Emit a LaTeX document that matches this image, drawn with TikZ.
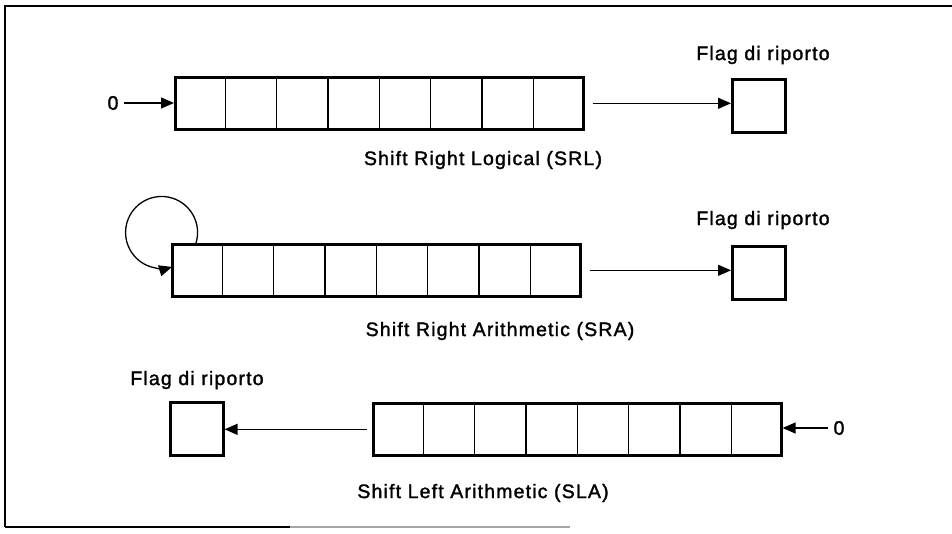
\documentclass[tikz,border=0pt]{standalone}
\usepackage{fontspec}
\setmainfont{Liberation Sans}[LetterSpace=6, FakeBold=1.6]
\usetikzlibrary{arrows.meta,calc}
\begin{document}
\begin{tikzpicture}[x=1pt,y=-1pt,
  reg/.style={draw, line width=2.6pt, minimum width=408pt, minimum height=52pt, inner sep=0pt, anchor=north west},
  flag/.style={draw, line width=2.6pt, minimum size=53pt, inner sep=0pt, anchor=north west},
  lbl/.style={font=\fontsize{19.5}{22}\selectfont, inner sep=0pt},
  arr/.style={line width=1.3pt, -{Triangle[length=13pt,width=11pt]}},
  cell/.style={line width=1.3pt},
  frame/.style={line width=1.5pt}]
\useasboundingbox (0,0) rectangle (952,533);
% frame
\draw[frame] (5,527) -- (5,6) -- (952,6);
\draw[frame] (5,527) -- (290,527);
\draw[line width=1.2pt, black!35] (290,527) -- (570,527);

% registers
\node[reg] (r1) at (174,76) {};
\node[reg] (r2) at (171,243) {};
\node[reg] (r3) at (372,402) {};
\foreach \r in {r1,r2,r3}{
  \foreach \i in {1,...,7}{
    \draw[cell] ($(\r.north west)!\i/8!(\r.north east)$) -- ($(\r.south west)!\i/8!(\r.south east)$);
  }
}

% flags
\node[flag] (f1) at (731,78) {};
\node[flag] (f2) at (731,245) {};
\node[flag] (f3) at (169,401) {};
\node[lbl] (fl1) at (763,55) {Flag di riporto};
\node[lbl] (fl2) at (763,220) {Flag di riporto};
\node[lbl] (fl3) at (197,380) {Flag di riporto};

% captions
\node[lbl] (c1) at (483,160) {Shift Right Logical (SRL)};
\node[lbl] (c2) at (500,331) {Shift Right Arithmetic (SRA)};
\node[lbl] (c3) at (483,493) {Shift Left Arithmetic (SLA)};

% SRL
\node[lbl] (z1) at (113,103) {0};
\draw[arr] ([xshift=5pt]z1.east) -- (z1 -| r1.west);
\draw[arr] ([xshift=8pt]r1.east) -- (r1.east -| f1.west);

% SRA
\coordinate (ls) at ([xshift=25pt]r2.north west);
\draw[arr] (ls) arc[start angle=17, end angle=-287, radius=36];
\draw[arr] ([xshift=8pt]r2.east) -- (r2.east -| f2.west);

% SLA
\node[lbl] (z3) at (839,428) {0};
\draw[arr] ([xshift=-5pt]z3.west) -- (z3 -| r3.east);
\draw[arr] ([xshift=-5pt]r3.west) -- (r3.west -| f3.east);
\end{tikzpicture}
\end{document}
